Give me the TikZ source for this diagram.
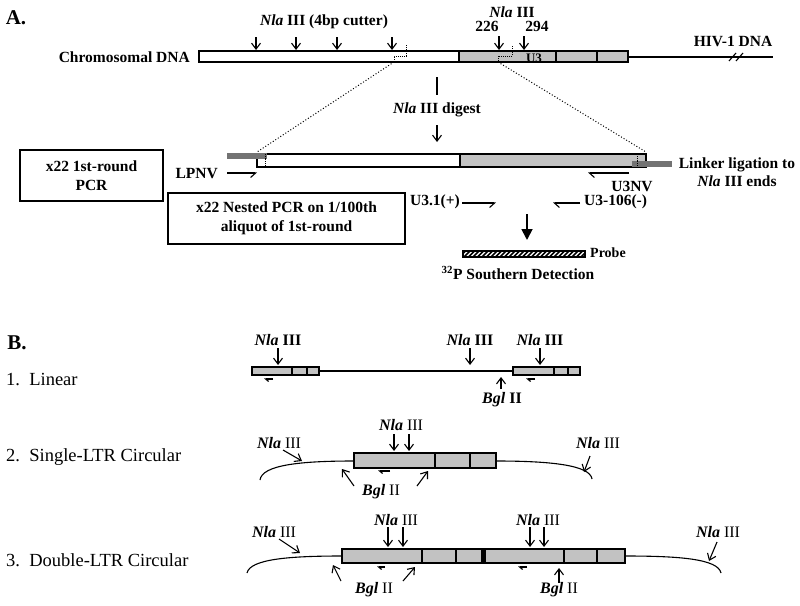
\documentclass[tikz,border=0pt]{standalone}
\usepackage{fontspec}
\setmainfont{Liberation Serif}
\usetikzlibrary{arrows.meta}

\newcommand{\nla}{\textbf{\textit{Nla}}}
\newcommand{\bgl}{\textbf{\textit{Bgl}}}

\tikzset{
  lbl/.style={font=\fontsize{15.5}{18.5}\selectfont\bfseries, inner sep=0pt},
  head/.style={font=\fontsize{21}{23}\selectfont\bfseries, inner sep=0pt},
  site/.style={font=\fontsize{16}{18}\selectfont, inner sep=0pt},
  rowname/.style={font=\fontsize{18.5}{20}\selectfont, inner sep=0pt, anchor=west},
  cut/.style={-{Straight Barb[length=6pt,width=9pt]}, line width=1.1pt},
  rprimer/.style={-{Straight Barb[harpoon,swap,length=5pt,width=9pt]}, line width=1.1pt},
  lprimer/.style={-{Straight Barb[harpoon,length=5pt,width=9pt]}, line width=1.1pt},
  tinyprimer/.style={-{Straight Barb[harpoon,length=3pt,width=5pt]}, line width=1.2pt},
  ltr/.style={draw, line width=1.2pt, fill=black!24},
  pcrbox/.style={draw, line width=1.2pt, align=center, inner sep=0pt,
    font=\fontsize{15.5}{18.5}\selectfont\bfseries},
  dna/.style={line width=1.1pt}
}

\begin{document}
\begin{tikzpicture}[x=1pt,y=-1pt]
  \useasboundingbox (0,0) rectangle (800,605);

  % ---------------- A ----------------
  \node[head] (headA) at (16,18) {A.};

  % chromosomal DNA with integrated provirus
  \draw[line width=1.2pt] (199,51) rectangle (459,62);
  \draw[ltr] (459,51) rectangle (628,62);
  \draw[line width=1.2pt] (556,51) -- (556,62) (597,51) -- (597,62);
  \draw[dna] (628,57) -- (773,57);
  \draw[dna] (729,61) -- (736,53) (736,61) -- (743,53);
  \node[lbl, anchor=east] (chrom) at (190,57) {Chromosomal DNA};
  \node[lbl] (hiv) at (733,42) {HIV-1 DNA};
  \node[font=\fontsize{13}{15}\selectfont\bfseries, inner sep=0pt] (u3) at (534,58) {U3};

  \node[lbl] (cutter) at (324,22) {\nla{} III (4bp cutter)};
  \foreach \x in {256,296,337,392}
    \draw[cut] (\x,37) -- (\x,50);

  \node[lbl] (nlaltr) at (512,12) {\nla{} III};
  \node[lbl] (p226) at (487,26) {226};
  \node[lbl] (p294) at (537,26) {294};
  \draw[cut] (499,36) -- (499,50);
  \draw[cut] (524,36) -- (524,50);

  % expansion of the digested fragment
  \draw[densely dotted, line width=1pt] (406,45) -- (406,56) -- (394,56) -- (394,62);
  \draw[densely dotted, line width=1pt] (512,46) -- (512,56) -- (498,56) -- (498,62);
  \draw[dotted, line width=1pt] (394,62) -- (257,152);
  \draw[dotted, line width=1pt] (498,62) -- (646,152);

  \draw[dna] (437,77) -- (437,95);
  \node[lbl] (digest) at (437,110) {\nla{} III digest};
  \draw[cut] (437,125) -- (437,142);

  % ligated fragment
  \draw[line width=1.2pt, fill=white] (257,154) rectangle (460,167);
  \draw[ltr] (460,154) rectangle (646,167);
  \fill[black!55] (227,153) rectangle (267,159);
  \fill[black!55] (632,161) rectangle (672,167);
  \draw[densely dotted, line width=0.8pt] (265,154) -- (265,165);
  \draw[densely dotted, line width=0.8pt] (637,156) -- (637,166);
  \node[lbl, align=center] (linker) at (737,172) {Linker ligation to\\\nla{} III ends};

  % primers
  \node[lbl, anchor=east] (lpnv) at (218,174) {LPNV};
  \draw[rprimer] (227,173) -- (257,173);
  \draw[lprimer] (629,173) -- (588,173);
  \node[lbl] (u3nv) at (632,186) {U3NV};
  \node[lbl, anchor=east] (u31) at (460,202) {U3.1(+)};
  \draw[rprimer] (462,203) -- (496,203);
  \node[lbl, anchor=west] (u3106) at (584,202) {U3-106(-)};
  \draw[lprimer] (580,203) -- (553,203);

  \node[pcrbox, minimum width=143pt, minimum height=51pt] (round1) at (91.5,175.5) {x22 1st-round\\PCR};
  \node[pcrbox, minimum width=237pt, minimum height=51pt] (nested) at (286.5,218.5) {x22 Nested PCR on 1/100th\\aliquot of 1st-round};

  % detection
  \draw[line width=1.8pt, -{Triangle[length=11pt,width=11pt]}] (527,214) -- (527,240);
  \begin{scope}
    \clip (463,251) rectangle (585,257);
    \foreach \x in {455,459.5,...,590}
      \draw[line width=1.5pt] (\x,257) -- (\x+6,251);
  \end{scope}
  \draw[line width=1.2pt] (463,251) rectangle (585,257);
  \node[font=\fontsize{14}{16}\selectfont\bfseries, inner sep=0pt, anchor=west] (probe) at (590,253) {Probe};
  \node[lbl] (southern) at (518,273) {\textsuperscript{32}P Southern Detection};

  % ---------------- B ----------------
  \node[head] (headB) at (17,343) {B.};

  % 1. linear
  \node[rowname] (linear) at (6,380) {1.\ \ Linear};
  \draw[ltr, line width=1.1pt] (252,367) rectangle (319,375);
  \draw[dna] (292,367) -- (292,375) (307,367) -- (307,375);
  \draw[dna] (319,371) -- (513,371);
  \draw[ltr, line width=1.1pt] (513,367) rectangle (580,375);
  \draw[dna] (554,367) -- (554,375) (568,367) -- (568,375);
  \foreach \x/\n in {278/a,470/b,540/c} {
    \node[site] (nlalin\n) at (\x,340) {\textbf{\textit{Nla} III}};
    \draw[cut] (\x,348) -- (\x,365);
  }
  \draw[cut] (501,389) -- (501,377);
  \node[site] (bgllin) at (502,400) {\textbf{\textit{Bgl} II}};
  \draw[tinyprimer] (273,379) -- (264,379);
  \draw[tinyprimer] (535,379) -- (526,379);

  % 2. single-LTR circle
  \node[rowname] (single) at (6,457) {2.\ \ Single-LTR Circular};
  \draw[dna] (260,480) .. controls (262,465) and (300,461) .. (354,461);
  \draw[dna] (496,461) .. controls (550,461) and (590,465) .. (592,479);
  \draw[ltr] (354,453) rectangle (496,468);
  \draw[line width=1.2pt] (435,453) -- (435,468) (470,453) -- (470,468);
  \node[site] (nlasga) at (401,425) {\nla{} III};
  \draw[cut] (394,434) -- (394,451);
  \draw[cut] (409,434) -- (409,451);
  \node[site] (nlasgb) at (279,443) {\nla{} III};
  \draw[cut] (283,450) -- (302,461);
  \node[site] (nlasgc) at (598,443) {\nla{} III};
  \draw[cut] (590,456) -- (584,472);
  \node[site] (bglsg) at (381,492) {\bgl{} II};
  \draw[cut] (354,486) -- (342,469);
  \draw[cut] (417,486) -- (428,471);
  \draw[tinyprimer] (390,471) -- (378,471);

  % 3. double-LTR circle
  \node[rowname] (double) at (6,560) {3.\ \ Double-LTR Circular};
  \draw[dna] (247,573) .. controls (250,559) and (290,556) .. (342,556);
  \draw[dna] (625,556) .. controls (680,556) and (718,559) .. (721,573);
  \draw[ltr] (342,549) rectangle (625,563);
  \draw[line width=1.2pt] (422,549) -- (422,563) (456,549) -- (456,563)
    (564,549) -- (564,563) (597,549) -- (597,563);
  \fill (481,549) rectangle (486,563);
  \node[site] (nladba) at (396,520) {\nla{} III};
  \draw[cut] (388,527) -- (388,547);
  \draw[cut] (403,527) -- (403,547);
  \node[site] (nladbb) at (538,520) {\nla{} III};
  \draw[cut] (530,527) -- (530,547);
  \draw[cut] (544,527) -- (544,547);
  \node[site] (nladbc) at (274,532) {\nla{} III};
  \draw[cut] (279,539) -- (300,553);
  \node[site] (nladbd) at (718,532) {\nla{} III};
  \draw[cut] (717,542) -- (709,561);
  \node[site] (bgldba) at (374,590) {\bgl{} II};
  \draw[cut] (341,581) -- (333,565);
  \draw[cut] (403,581) -- (415,567);
  \node[site] (bgldbb) at (559,590) {\bgl{} II};
  \draw[cut] (559,583) -- (559,568);
  \draw[tinyprimer] (385,567) -- (377,567);
  \draw[tinyprimer] (527,567) -- (518,567);
\end{tikzpicture}
\end{document}
